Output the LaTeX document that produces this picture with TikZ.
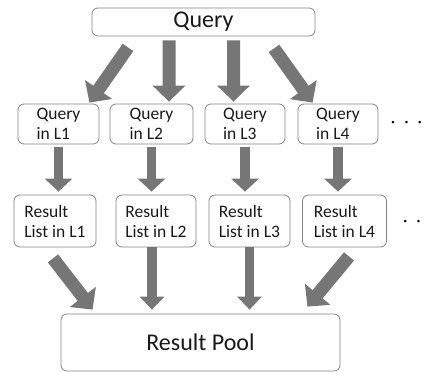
\documentclass[tikz,border=0pt]{standalone}
\usepackage{fontspec}
\setmainfont{Carlito}
\usepackage{tikz}
\usepackage{xcolor}
\usetikzlibrary{arrows.meta, positioning}
\definecolor{arrowgray}{RGB}{118,118,118}
\definecolor{boxgray}{RGB}{130,130,130}

\begin{document}
\begin{tikzpicture}[x=1bp, y=-1bp,
    boxes/.style={draw=boxgray, rounded corners=6bp, line width=0.8bp, align=left, inner sep=0pt, text=black!90},
    smallbox/.style={boxes, font=\fontsize{17.5bp}{20bp}\selectfont},
    bigbox/.style={boxes, font=\fontsize{24bp}{28bp}\selectfont},
    fatarrow/.style={draw=arrowgray, line width=13bp, -{Triangle[width=32bp, length=16bp]}},
    thinarrow/.style={draw=arrowgray, line width=9.5bp, -{Triangle[width=27bp, length=13bp]}}]
        \useasboundingbox (0,0) rectangle (431,372);
        \node[bigbox, minimum width=223bp, minimum height=28bp] (query) at (203.5,22) {Query};
        \node[smallbox, minimum width=81bp, minimum height=40bp] (q1) at (58.5,124) {Query\\in L1};
        \node[smallbox, minimum width=83bp, minimum height=40bp] (q2) at (151.5,124) {Query\\in L2};
        \node[smallbox, minimum width=80bp, minimum height=40bp] (q3) at (245,124) {Query\\in L3};
        \node[smallbox, minimum width=80bp, minimum height=40bp] (q4) at (338,124) {Query\\in L4};
        \node[smallbox, minimum width=82bp, minimum height=52bp] (r1) at (55,221) {Result\\List in L1};
        \node[smallbox, minimum width=80bp, minimum height=52bp] (r2) at (156,221) {Result\\List in L2};
        \node[smallbox, minimum width=81bp, minimum height=52bp] (r3) at (249.5,221) {Result\\List in L3};
        \node[smallbox, minimum width=84bp, minimum height=52bp] (r4) at (344.5,221) {Result\\List in L4};
        \node[bigbox, minimum width=279bp, minimum height=57bp] (pool) at (200.5,342.5) {Result Pool};
        \node[font=\fontsize{17.5bp}{20bp}\selectfont, inner sep=0pt] (more1) at (406.5,124) {·\hspace{9bp}·\hspace{9bp}·};
        \node[font=\fontsize{17.5bp}{20bp}\selectfont, inner sep=0pt] (more2) at (412,223) {·\hspace{9bp}·};
        % query to the lists
        \draw[fatarrow] ([shift={(-75.5,11)}]query.south) -- ([shift={(-10,-1)}]q1.north east);
        \draw[fatarrow] ([shift={(-34.5,4)}]query.south) -- ([shift={(17.5,-2)}]q2.north);
        \draw[fatarrow] ([shift={(30,4)}]query.south) -- ([shift={(-11.5,-2)}]q3.north);
        \draw[fatarrow] ([shift={(70.5,12)}]query.south) -- ([shift={(15,-1)}]q4.north west);
        \foreach \from/\to in
        {q1/r1,q2/r2,q3/r3,q4/r4} \draw[thinarrow, shorten <=3bp, shorten >=3bp] (\from.south) -- (\from.south |- \to.north);
        % lists to the pool
        \draw[fatarrow] ([shift={(-2,11)}]r1.south) -- ([shift={(32,-4)}]pool.north west);
        \draw[thinarrow, -{Triangle[width=24bp, length=13bp]}, shorten >=4bp] ([xshift=-4]r2.south) -- ([xshift=-4]r2.south |- pool.north);
        \draw[thinarrow, -{Triangle[width=24bp, length=13bp]}, shorten >=4bp] (r3.south) -- (r3.south |- pool.north);
        \draw[fatarrow] ([shift={(4.5,9)}]r4.south) -- ([shift={(-33,-7)}]pool.north east);
\end{tikzpicture}
\end{document}
